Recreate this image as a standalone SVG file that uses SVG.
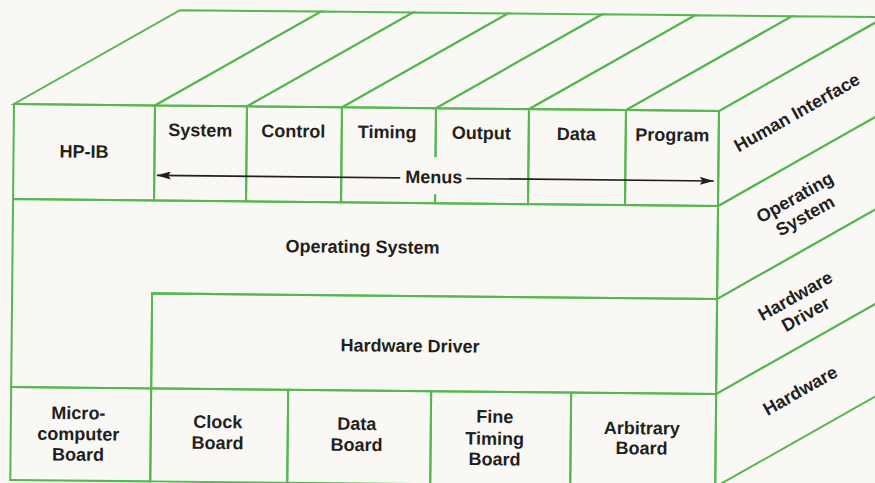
<svg xmlns="http://www.w3.org/2000/svg" width="875" height="483" viewBox="0 0 875 483">
  <defs>
    <style>
      .edge { fill: none; stroke: #55b84f; stroke-width: 2; stroke-linejoin: miter; }
      .lbl { font-family: "Liberation Sans", Arial, Helvetica, sans-serif; font-weight: bold; font-size: 18px; fill: #231f20; text-anchor: middle; }
      .wire { stroke: #231f20; stroke-width: 1.6; fill: none; }
    </style>
    <marker id="ah" viewBox="0 0 14 8" refX="14" refY="4" markerWidth="14" markerHeight="8" markerUnits="userSpaceOnUse" orient="auto-start-reverse">
      <path d="M0,0 L14,4 L0,8 L2.5,4 z" fill="#231f20"/>
    </marker>
  </defs>

  <!-- paper -->
  <rect x="0" y="0" width="875" height="483" fill="#faf8f5"/>

  <!-- whole block, slightly tilted -->
  <g transform="rotate(0.57 14 104)">

    <!-- top faces of the top row (depth vector 165,-95.5) -->
    <g id="top-face">
      <polygon class="edge" points="14,104 155,104 320,8.5 179,8.5"/>
      <polygon class="edge" points="155,104 247,104 412,8.5 320,8.5"/>
      <polygon class="edge" points="247,104 342,104 507,8.5 412,8.5"/>
      <polygon class="edge" points="342,104 436,104 601,8.5 507,8.5"/>
      <polygon class="edge" points="436,104 529,104 694,8.5 601,8.5"/>
      <polygon class="edge" points="529,104 626,104 791,8.5 694,8.5"/>
      <polygon class="edge" points="626,104 719,104 884,8.5 791,8.5"/>
    </g>

    <!-- right side face, one band per layer -->
    <g id="layer-human-interface">
      <polygon class="edge" points="719,104 719,199 884,103.5 884,8.5"/>
      <text class="lbl" transform="translate(800 110) rotate(-30)" x="0" y="0">Human Interface</text>
    </g>
    <g id="layer-operating-system">
      <polygon class="edge" points="719,199 719,292 884,196.5 884,103.5"/>
      <text class="lbl" transform="translate(804 204) rotate(-30)"><tspan x="0" y="-10.5">Operating</tspan><tspan x="0" y="10.5">System</tspan></text>
    </g>
    <g id="layer-hardware-driver">
      <polygon class="edge" points="719,292 719,387 884,291.5 884,196.5"/>
      <text class="lbl" transform="translate(805.5 302.5) rotate(-30)"><tspan x="0" y="-10.5">Hardware</tspan><tspan x="0" y="10.5">Driver</tspan></text>
    </g>
    <g id="layer-hardware">
      <polygon class="edge" points="719,387 719,480 884,384.5 884,291.5"/>
      <text class="lbl" transform="translate(806 388) rotate(-30)" x="0" y="0">Hardware</text>
    </g>

    <!-- front face: top row -->
    <g id="hp-ib">
      <rect class="edge" x="14" y="104" width="141" height="95"/>
      <text class="lbl" x="84.5" y="157">HP-IB</text>
    </g>
    <g id="menu-system">
      <rect class="edge" x="155" y="104" width="92" height="95"/>
      <text class="lbl" x="200.5" y="134.5">System</text>
    </g>
    <g id="menu-control">
      <rect class="edge" x="247" y="104" width="95" height="95"/>
      <text class="lbl" x="293.5" y="134.5">Control</text>
    </g>
    <g id="menu-timing">
      <rect class="edge" x="342" y="104" width="94" height="95"/>
      <text class="lbl" x="387.5" y="134.5">Timing</text>
    </g>
    <g id="menu-output">
      <rect class="edge" x="436" y="104" width="93" height="95"/>
      <text class="lbl" x="481.5" y="134.5">Output</text>
    </g>
    <g id="menu-data">
      <rect class="edge" x="529" y="104" width="97" height="95"/>
      <text class="lbl" x="576.5" y="134.5">Data</text>
    </g>
    <g id="menu-program">
      <rect class="edge" x="626" y="104" width="93" height="95"/>
      <text class="lbl" x="672.5" y="134.5">Program</text>
    </g>

    <!-- front face: operating system (L-shaped) and hardware driver -->
    <g id="operating-system">
      <polygon class="edge" points="14,199 719,199 719,292 154,292 154,387 14,387"/>
      <text class="lbl" x="364" y="249.5">Operating System</text>
    </g>
    <g id="hardware-driver">
      <rect class="edge" x="154" y="292" width="565" height="95"/>
      <text class="lbl" x="412.5" y="348">Hardware Driver</text>
    </g>

    <!-- front face: boards -->
    <g id="microcomputer-board">
      <rect class="edge" x="14" y="387" width="140" height="93"/>
      <text class="lbl"><tspan x="81.5" y="418.5">Micro-</tspan><tspan x="81.5" y="439.5">computer</tspan><tspan x="81.5" y="460">Board</tspan></text>
    </g>
    <g id="clock-board">
      <rect class="edge" x="154" y="387" width="137" height="93"/>
      <text class="lbl"><tspan x="221" y="426">Clock</tspan><tspan x="221" y="447">Board</tspan></text>
    </g>
    <g id="data-board">
      <rect class="edge" x="291" y="387" width="143" height="93"/>
      <text class="lbl"><tspan x="360" y="426.5">Data</tspan><tspan x="360" y="447.5">Board</tspan></text>
    </g>
    <g id="fine-timing-board">
      <rect class="edge" x="434" y="387" width="140" height="93"/>
      <text class="lbl"><tspan x="498" y="418">Fine</tspan><tspan x="498" y="440">Timing</tspan><tspan x="498" y="460.5">Board</tspan></text>
    </g>
    <g id="arbitrary-board">
      <rect class="edge" x="574" y="387" width="145" height="93"/>
      <text class="lbl"><tspan x="645" y="428">Arbitrary</tspan><tspan x="645" y="448">Board</tspan></text>
    </g>

    <!-- connectors -->
    <g id="connectors">
      <line class="wire" x1="157.5" y1="174" x2="714.5" y2="174" marker-start="url(#ah)" marker-end="url(#ah)"/>
    </g>

    <!-- label sitting on the menus arrow -->
    <g id="menus-label">
      <rect x="401" y="153" width="66" height="37" fill="#faf8f5"/>
      <text class="lbl" x="434.5" y="179">Menus</text>
    </g>
  </g>
</svg>
